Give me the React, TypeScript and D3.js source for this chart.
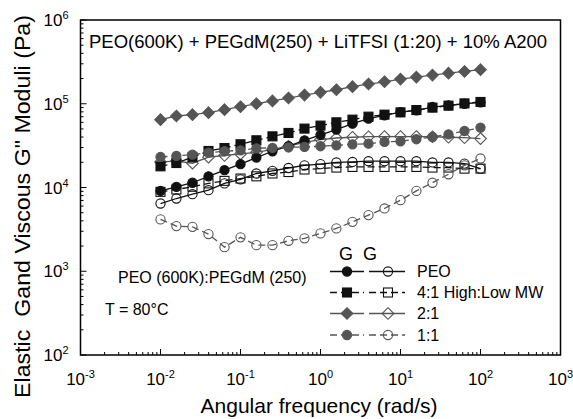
import React from 'react';
import * as d3 from 'd3';

// angular frequency (rad/s)
const frequencies = [0.01, 0.0158, 0.0251, 0.0398, 0.0631, 0.1, 0.158, 0.251, 0.398, 0.631, 1, 1.58, 2.51, 3.98, 6.31, 10, 15.8, 25.1, 39.8, 63.1, 100];

// PEO
const peoGp = [9100, 10200, 11400, 13600, 16100, 19000, 22800, 27100, 31100, 36600, 42600, 49100, 57900, 66400, 72700, 79600, 83400, 91400, 95700, 100000, 104000];
const peoGpp = [6440, 7390, 8320, 9290, 11200, 12500, 14700, 15800, 17100, 18400, 19000, 19900, 20200, 20600, 20600, 20600, 20600, 19900, 19900, 19300, 16800];
// 4:1 High:Low MW
const r41Gp = [17900, 19600, 23000, 27300, 29600, 32800, 36600, 40800, 44800, 50500, 54800, 60000, 64600, 70100, 74100, 78900, 84100, 89900, 94900, 101000, 105000];
const r41Gpp = [8870, 9470, 10200, 11200, 12000, 12800, 13600, 14700, 15300, 16400, 16800, 17300, 17600, 17600, 17600, 17600, 17600, 17300, 17300, 16800, 16800];
// 2:1
const r21Gp = [64600, 71400, 74100, 78300, 85000, 92200, 100000, 108000, 117000, 127000, 137000, 147000, 160000, 172000, 183000, 197000, 208000, 220000, 232000, 243000, 255000];
const r21Gpp = [20200, 20700, 19500, 23000, 24100, 25200, 26300, 28600, 31100, 34600, 37300, 39000, 39800, 40400, 40600, 40600, 40600, 40400, 39800, 39300, 38400];
// 1:1
const r11Gp = [23200, 23800, 24700, 26100, 27100, 27800, 29400, 29800, 30200, 30500, 31100, 31900, 32800, 33400, 35000, 35600, 37700, 40100, 43200, 47300, 51900];
const r11Gpp = [4160, 3460, 3390, 2780, 1940, 2540, 2050, 2050, 2310, 2470, 2830, 3250, 3890, 4680, 5620, 7060, 9110, 11400, 14400, 18400, 22200];

const xTickExps = [-3, -2, -1, 0, 1, 2, 3];
const yTickExps = [2, 3, 4, 5, 6];
const legendLabels = ['PEO', '4:1 High:Low MW', '2:1', '1:1'];

const FONT = 'Liberation Sans, Arial, Helvetica, sans-serif';
const BLACK = '#111';
const GRAY = '#555';
const DASH = '7,4';

type Shape = 'circle' | 'square' | 'diamond';
interface Series { values: number[]; shape: Shape; color: string; filled: boolean; dashed: boolean; }

const storageSeries: Series[] = [
  { values: peoGp, shape: 'circle', color: BLACK, filled: true, dashed: false },
  { values: r41Gp, shape: 'square', color: BLACK, filled: true, dashed: true },
  { values: r21Gp, shape: 'diamond', color: GRAY, filled: true, dashed: false },
  { values: r11Gp, shape: 'circle', color: GRAY, filled: true, dashed: true },
];
const lossSeries: Series[] = [
  { values: peoGpp, shape: 'circle', color: BLACK, filled: false, dashed: false },
  { values: r41Gpp, shape: 'square', color: BLACK, filled: false, dashed: true },
  { values: r21Gpp, shape: 'diamond', color: GRAY, filled: false, dashed: false },
  { values: r11Gpp, shape: 'circle', color: GRAY, filled: false, dashed: true },
];

const W = 573, H = 419;
const L = 80.5, R = 560.5, T = 20, B = 355;

const x = d3.scaleLog().domain([1e-3, 1e3]).range([L, R]);
const y = d3.scaleLog().domain([1e2, 1e6]).range([B, T]);

function Marker({ shape, cx, cy, color, filled }: { shape: Shape; cx: number; cy: number; color: string; filled: boolean }) {
  const fill = filled ? color : 'none';
  const sw = 1.1;
  if (shape === 'circle') return <circle cx={cx} cy={cy} r={4.6} fill={fill} stroke={color} strokeWidth={sw} />;
  if (shape === 'square') return <rect x={cx - 4.5} y={cy - 4.5} width={9} height={9} fill={fill} stroke={color} strokeWidth={sw} />;
  const s = 5.8;
  return <path d={`M${cx},${cy - s}L${cx + s},${cy}L${cx},${cy + s}L${cx - s},${cy}Z`} fill={fill} stroke={color} strokeWidth={sw} />;
}

function SeriesPlot({ s }: { s: Series }) {
  const line = d3.line<number>().x((_, i) => x(frequencies[i])).y(v => y(v));
  return (
    <g>
      <path d={line(s.values) || ''} fill="none" stroke={s.color} strokeWidth={1.3} strokeDasharray={s.dashed ? DASH : undefined} />
      {s.values.map((v, i) => (
        <Marker key={i} shape={s.shape} cx={x(frequencies[i])} cy={y(v)} color={s.color} filled={s.filled} />
      ))}
    </g>
  );
}

export default function App() {
  const minorX: number[] = [];
  for (let e = -3; e < 3; e++) for (let k = 2; k <= 9; k++) minorX.push(k * 10 ** e);
  const minorY: number[] = [];
  for (let e = 2; e < 6; e++) for (let k = 2; k <= 9; k++) minorY.push(k * 10 ** e);

  const legendRowY = [271.5, 292.5, 313.5, 335];

  return (
    <svg width={W} height={H} style={{ position: 'absolute', left: 0, top: 0, background: '#fff' }} fontFamily={FONT}>
      <rect x={0} y={0} width={W} height={H} fill="#fff" />
      {/* series */}
      {lossSeries.map((s, i) => <SeriesPlot key={'l' + i} s={s} />)}
      {storageSeries.map((s, i) => <SeriesPlot key={'s' + i} s={s} />)}

      {/* ticks */}
      {xTickExps.map(e => (
        <line key={'xt' + e} x1={x(10 ** e)} x2={x(10 ** e)} y1={B} y2={B - 6} stroke="#000" strokeWidth={1} />
      ))}
      {minorX.map((v, i) => (
        <line key={'xm' + i} x1={x(v)} x2={x(v)} y1={B} y2={B - 3} stroke="#000" strokeWidth={1} />
      ))}
      {yTickExps.map(e => (
        <line key={'yt' + e} x1={L} x2={L + 6} y1={y(10 ** e)} y2={y(10 ** e)} stroke="#000" strokeWidth={1} />
      ))}
      {minorY.map((v, i) => (
        <line key={'ym' + i} x1={L} x2={L + 3} y1={y(v)} y2={y(v)} stroke="#000" strokeWidth={1} />
      ))}
      <rect x={L} y={T} width={R - L} height={B - T} fill="none" stroke="#000" strokeWidth={1.5} />

      {/* tick labels */}
      {xTickExps.map(e => (
        <text key={'xl' + e} x={x(10 ** e)} y={385} textAnchor="middle" fontSize={17} fill="#000">
          10<tspan fontSize={11} dy={-7}>{String(e)}</tspan>
        </text>
      ))}
      {yTickExps.map(e => (
        <text key={'yl' + e} x={68.5} y={y(10 ** e) + 6} textAnchor="end" fontSize={17} fill="#000">
          10<tspan fontSize={11} dy={-7}>{String(e)}</tspan>
        </text>
      ))}

      {/* axis titles */}
      <text x={319} y={413} textAnchor="middle" fontSize={21} fill="#000">Angular frequency (rad/s)</text>
      <text transform="translate(30,206.5) rotate(-90)" textAnchor="middle" fontSize={22} fill="#000"
        textLength={383} lengthAdjust="spacingAndGlyphs">{'Elastic\u00A0 Gand Viscous G" Moduli (Pa)'}</text>

      {/* annotations */}
      <text x={89} y={48} fontSize={18.5} fill="#000">PEO(600K) + PEGdM(250) + LiTFSI (1:20) + 10% A200</text>
      <text x={118} y={283} fontSize={16} fill="#000">PEO (600K):PEGdM (250)</text>
      <text x={105} y={315} fontSize={16} fill="#000">T = 80°C</text>

      {/* legend */}
      <text x={346} y={260} textAnchor="middle" fontSize={18} fill="#000">G</text>
      <text x={370} y={260} textAnchor="middle" fontSize={18} fill="#000">G</text>
      {legendLabels.map((lab, i) => {
        const ly = legendRowY[i];
        const st = storageSeries[i];
        const ls = lossSeries[i];
        return (
          <g key={'lg' + i}>
            <line x1={330} x2={364} y1={ly} y2={ly} stroke={st.color} strokeWidth={1.3} strokeDasharray={st.dashed ? DASH : undefined} />
            <Marker shape={st.shape} cx={347} cy={ly} color={st.color} filled />
            <line x1={369} x2={405} y1={ly} y2={ly} stroke={ls.color} strokeWidth={1.3} strokeDasharray={ls.dashed ? DASH : undefined} />
            <Marker shape={ls.shape} cx={388} cy={ly} color={ls.color} filled={false} />
            <text x={417} y={ly + 5.5} fontSize={16} fill="#000">{lab}</text>
          </g>
        );
      })}
    </svg>
  );
}
